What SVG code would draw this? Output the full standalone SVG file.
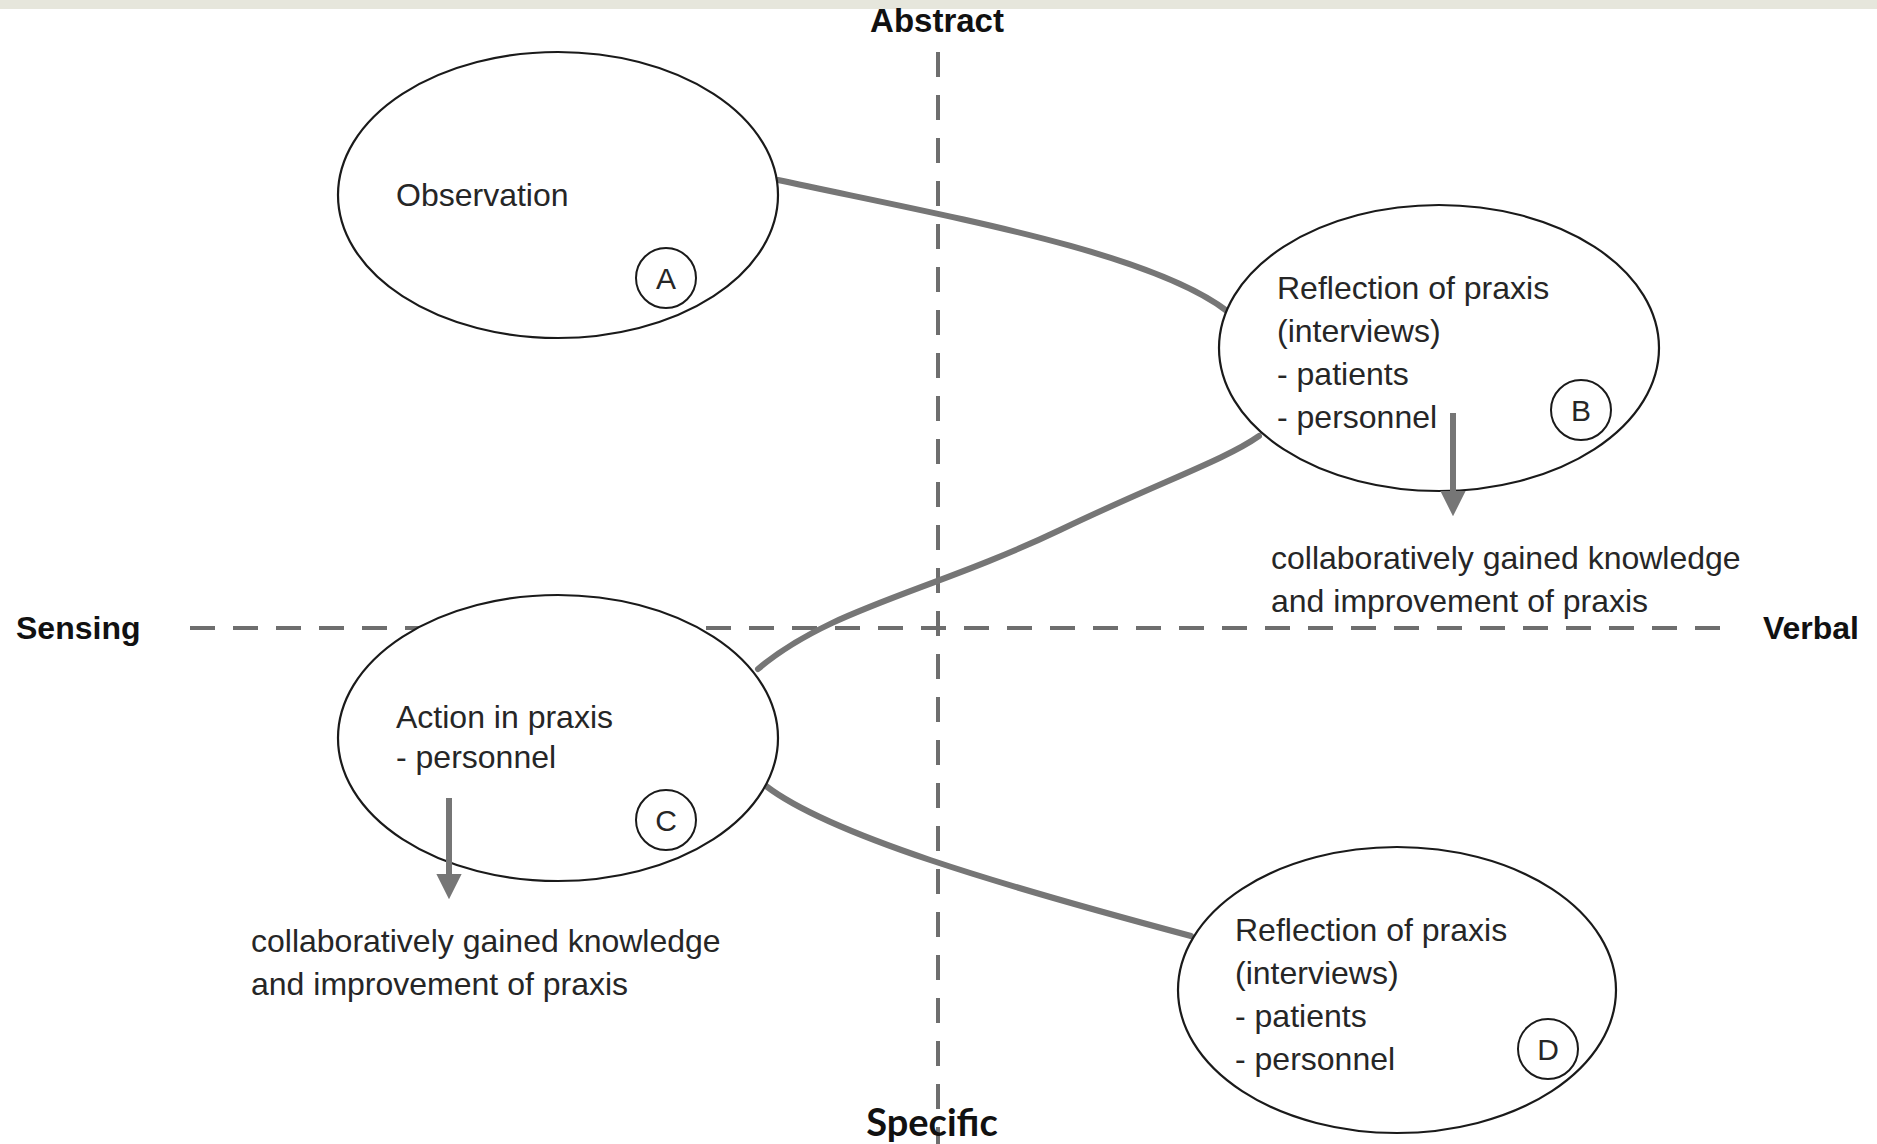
<svg xmlns="http://www.w3.org/2000/svg" width="1877" height="1144" viewBox="0 0 1877 1144">
<style>
.ell{fill:#fff;stroke:#1a1a1a;stroke-width:2.2}
.badge{fill:none;stroke:#1a1a1a;stroke-width:2}
.t{font-family:"Liberation Sans",Arial,sans-serif;font-size:32px;fill:#262626}
.bt{font-family:"Liberation Sans",Arial,sans-serif;font-size:30px;fill:#262626;text-anchor:middle}
.ax{font-family:"Liberation Sans",Arial,sans-serif;font-size:32px;font-weight:bold;fill:#111}
.dash{stroke:#6e6e6e;stroke-width:4;stroke-dasharray:25 18;fill:none}
.conn{stroke:#767676;stroke-width:6;fill:none;stroke-linecap:round}
.arr{stroke:#767676;stroke-width:6;fill:none}
</style>
<defs>
<marker id="ah" viewBox="0 0 10 10" refX="0" refY="5" markerWidth="4.2" markerHeight="4.2" orient="auto" markerUnits="strokeWidth">
<path d="M0,0 L10,5 L0,10 Z" fill="#767676"/>
</marker>
</defs>
<rect x="0" y="0" width="1877" height="1144" fill="#fff"/>
<rect x="0" y="0" width="1877" height="9" fill="#e6e6dc"/>
<g id="axes">
<line class="dash" x1="938" y1="52" x2="938" y2="1144"/>
<line class="dash" x1="190" y1="628" x2="1724" y2="628"/>
<text class="ax" x="937" y="32" text-anchor="middle" style="font-size:33px">Abstract</text>
<text class="ax" x="16" y="639">Sensing</text>
<text class="ax" x="1859" y="639" text-anchor="end">Verbal</text>
<text x="932" y="1136" text-anchor="middle" style="font-family:Lato,'Noto Sans',sans-serif;font-size:38px;font-weight:bold;fill:#111">Specific</text>
</g>
<g id="connectors">
<path class="conn" d="M778 180 C 950 217, 1150 252, 1227 311"/>
<path class="conn" d="M758 669 C 830 608, 930 592, 1060 530 C 1160 482, 1225 460, 1259 436"/>
<path class="conn" d="M766 786 C 830 835, 1000 885, 1191 936"/>
</g>
<g id="nodeA">
<ellipse class="ell" cx="558" cy="195" rx="220" ry="143"/>
<text class="t" x="396" y="206">Observation</text>
<circle class="badge" cx="666" cy="278" r="30"/>
<text class="bt" x="666" y="289">A</text>
</g>
<g id="nodeB">
<ellipse class="ell" cx="1439" cy="348" rx="220" ry="143"/>
<text class="t" x="1277" y="299">Reflection of praxis</text>
<text class="t" x="1277" y="342">(interviews)</text>
<text class="t" x="1277" y="385">- patients</text>
<text class="t" x="1277" y="428">- personnel</text>
<circle class="badge" cx="1581" cy="410" r="30"/>
<text class="bt" x="1581" y="421">B</text>
</g>
<g id="nodeC">
<ellipse class="ell" cx="558" cy="738" rx="220" ry="143"/>
<text class="t" x="396" y="728">Action in praxis</text>
<text class="t" x="396" y="768">- personnel</text>
<circle class="badge" cx="666" cy="820" r="30"/>
<text class="bt" x="666" y="831">C</text>
</g>
<g id="nodeD">
<ellipse class="ell" cx="1397" cy="990" rx="219" ry="143"/>
<text class="t" x="1235" y="941">Reflection of praxis</text>
<text class="t" x="1235" y="984">(interviews)</text>
<text class="t" x="1235" y="1027">- patients</text>
<text class="t" x="1235" y="1070">- personnel</text>
<circle class="badge" cx="1548" cy="1049" r="30"/>
<text class="bt" x="1548" y="1060">D</text>
</g>
<g id="outcomeB">
<line class="arr" x1="1453" y1="413" x2="1453" y2="491" marker-end="url(#ah)"/>
<text class="t" x="1271" y="569">collaboratively gained knowledge</text>
<text class="t" x="1271" y="612">and improvement of praxis</text>
</g>
<g id="outcomeC">
<line class="arr" x1="449" y1="798" x2="449" y2="874" marker-end="url(#ah)"/>
<text class="t" x="251" y="952">collaboratively gained knowledge</text>
<text class="t" x="251" y="995">and improvement of praxis</text>
</g>
</svg>
